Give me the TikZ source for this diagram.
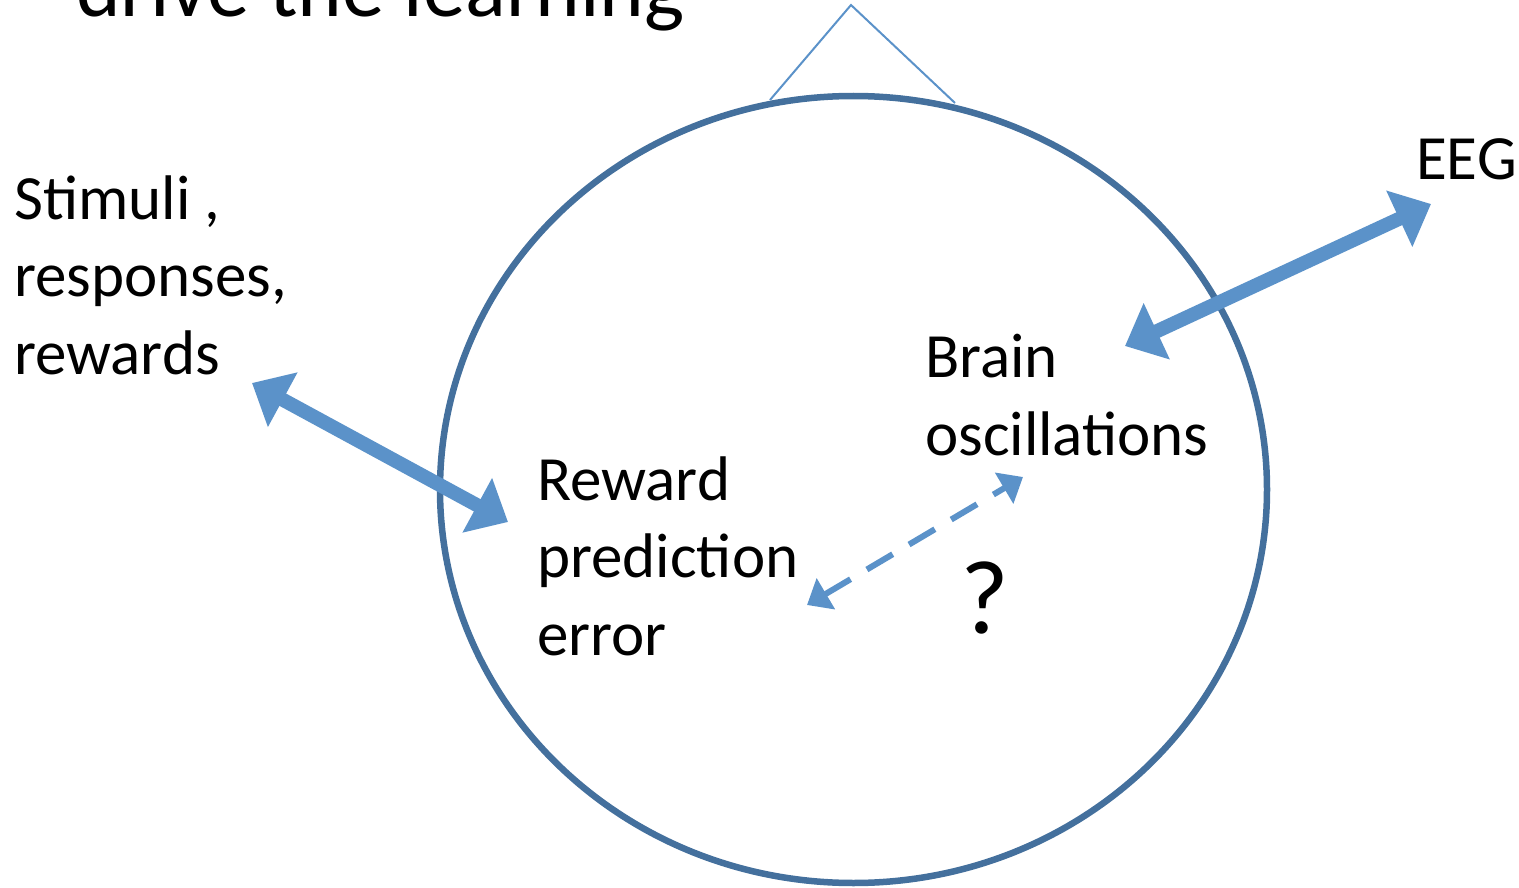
\documentclass[tikz,border=0pt]{standalone}
\usepackage{fontspec}
\setmainfont{Carlito}
\usetikzlibrary{arrows.meta,shapes.geometric}
\definecolor{headblue}{RGB}{68,112,157}
\definecolor{arrowblue}{RGB}{91,146,201}
\tikzset{
  lbl/.style={anchor=base west, inner sep=0pt, align=left, font=\fontsize{63}{77.5}\selectfont},
  bigarrow/.style={arrowblue, line width=14pt, {Triangle[length=35pt,width=60pt]}-{Triangle[length=35pt,width=60pt]}},
  dasharrow/.style={arrowblue, line width=6pt, dash pattern=on 30pt off 19pt, {Triangle[length=22pt,width=35pt]}-{Triangle[length=22pt,width=35pt]}},
}
\begin{document}
\begin{tikzpicture}[x=1pt,y=-1pt]
\useasboundingbox (0,0) rectangle (1519,888);
% title (cut off at top)
\node[anchor=base west, inner sep=0pt, font=\fontsize{85}{100}\selectfont] (title) at (76,17) {drive the learning};
% head
\draw[headblue, line width=6.5pt] (853.5,489.5) ellipse [x radius=413.5, y radius=393.5];
\node[inner sep=0pt, minimum width=827pt, minimum height=787pt, ellipse] (head) at (853.5,489.5) {};
% nose
\coordinate (noseL) at (770,100);
\coordinate (noseT) at (851,5);
\coordinate (noseR) at (955,103);
\draw[arrowblue, line width=2pt, line join=miter] (noseL) -- (noseT) -- (noseR);
% texts (base anchor = baseline of last line)
\node[lbl] (stim) at (14,374) {Stimuli ,\\responses,\\rewards};
\node[lbl] (rpe) at (537,655) {Reward\\prediction\\error};
\node[lbl] (brain) at (925,455) {Brain\\oscillations};
\node[lbl] (eeg) at (1416,180) {EEG};
\node[anchor=base west, inner sep=0pt, font=\fontsize{105}{120}\selectfont] (q) at (960,633) {?};
% arrows
\coordinate (a1s) at (252,383);
\coordinate (a1e) at (508,522);
\draw[bigarrow] (a1s) -- (a1e);
\coordinate (a2s) at (1125,346);
\coordinate (a2e) at (1431,204);
\draw[bigarrow] (a2s) -- (a2e);
\coordinate (a3s) at (807,605);
\coordinate (a3e) at (1023,477);
\draw[dasharrow] (a3s) -- (a3e);
\end{tikzpicture}
\end{document}
